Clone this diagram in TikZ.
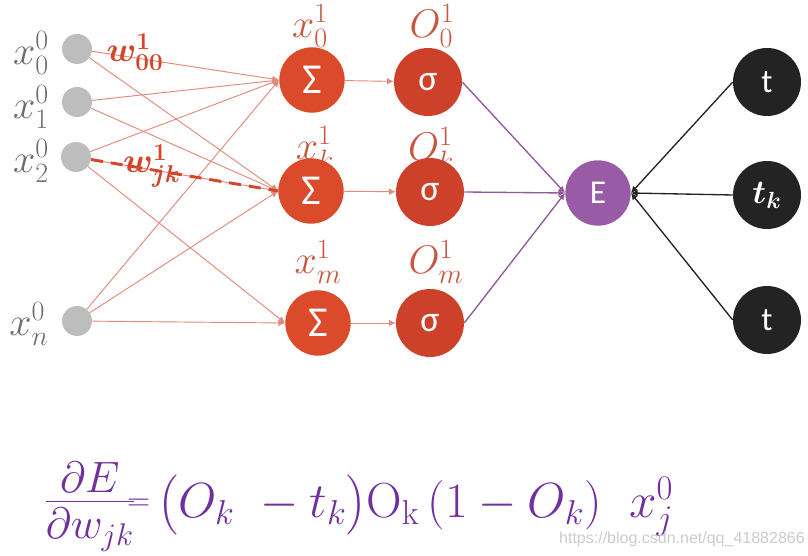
\RequirePackage{fix-cm}
\documentclass[tikz,border=0pt]{standalone}
\usepackage{amsmath,bm}
\usepackage{fontspec}
\newfontfamily\carl{Carlito}
\newfontfamily\wmfont{Liberation Sans}
\usetikzlibrary{arrows.meta}
\definecolor{inpgray}{HTML}{BDBDBD}
\definecolor{labgray}{HTML}{6E6E6E}
\definecolor{sumred}{HTML}{DB4A2B}
\definecolor{sigred}{HTML}{CD4029}
\definecolor{errpurp}{HTML}{9A5BA6}
\definecolor{tblack}{HTML}{232323}
\definecolor{linered}{HTML}{E28A7C}
\definecolor{labred}{HTML}{C9573F}
\definecolor{wred}{HTML}{D5452A}
\definecolor{linepurp}{HTML}{8E5A9A}
\definecolor{formpurp}{HTML}{7030A0}
\tikzset{
  inp/.style={circle, fill=inpgray, inner sep=0pt, minimum size=22.5pt},
  sumnode/.style={circle, fill=sumred, inner sep=0pt, minimum size=49pt, text=white, font=\carl\fontsize{32}{36}\selectfont},
  signode/.style={circle, fill=sigred, inner sep=0pt, minimum size=51pt, text=white, font=\carl\fontsize{27}{30}\selectfont},
  errnode/.style={circle, fill=errpurp, inner sep=0pt, minimum size=49pt, text=white, font=\carl\fontsize{25}{28}\selectfont},
  tnode/.style={circle, fill=tblack, inner sep=0pt, minimum size=51pt, text=white, font=\carl\fontsize{25}{28}\selectfont},
  inlab/.style={text=labgray, inner sep=0pt, font=\fontsize{30}{34}\selectfont},
  laylab/.style={text=labred, inner sep=0pt, font=\fontsize{30}{34}\selectfont},
  wlab/.style={text=wred, inner sep=0pt, font=\fontsize{26}{30}\selectfont},
  redline/.style={draw=linered, line width=0.7pt, -{Latex[length=5pt,width=5pt]}},
  dashline/.style={draw=wred, line width=2.2pt, dash pattern=on 9pt off 6pt},
  purpline/.style={draw=linepurp, line width=1pt, -{Latex[length=5pt,width=5pt]}},
  blkline/.style={draw=tblack, line width=1pt, -{Latex[length=5pt,width=5pt]}},
  formula/.style={text=formpurp, inner sep=0pt, font=\fontsize{37}{44}\selectfont},
  wmark/.style={text=gray!40, inner sep=0pt, font=\wmfont\fontsize{12}{14}\selectfont}
}
\begin{document}
\begin{tikzpicture}[x=0.75pt,y=-0.75pt]
\useasboundingbox (0,0) rectangle (808,556);
\fill[white] (0,0) rectangle (808,556);
% input labels
\node[inlab] (l0) at (31,53) {$x_0^0$};
\node[inlab] (l1) at (31,107) {$x_1^0$};
\node[inlab] (l2) at (31,161) {$x_2^0$};
\node[inlab] (ln) at (29,324) {$x_n^0$};
% layer labels
\node[laylab] (ls0) at (310,26) {$x_0^1$};
\node[laylab] (lsk) at (315,148) {$x_k^1$};
\node[laylab] (lsm) at (318,262) {$x_m^1$};
\node[laylab] (lg0) at (432,26) {$O_0^1$};
\node[laylab] (lgk) at (431,149) {$O_k^1$};
\node[laylab] (lgm) at (436,262) {$O_m^1$};
% nodes
\node[inp] (i0) at (77,49) {};
\node[inp] (i1) at (77,102) {};
\node[inp] (i2) at (76,157) {};
\node[inp] (in) at (77,321) {};
\node[sumnode] (s0) at (312,80) {Σ};
\node[sumnode] (sk) at (311,191) {Σ};
\node[sumnode] (sm) at (318,323) {Σ};
\node[signode] (g0) at (428,82) {σ};
\node[signode] (gk) at (430,192) {σ};
\node[signode] (gm) at (430,323) {σ};
\node[errnode] (E) at (598,193) {E};
\node[tnode] (t0) at (767,82) {t};
\node[tnode] (tk) at (767,195) {$\bm{t_k}$};
\node[tnode] (tm) at (767,320) {t};
% input -> sum
\foreach \a in {i0,i1,i2,in} \draw[redline] (\a) -- (s0.west);
\foreach \a in {i0,i1,i2,in} \draw[redline] (\a) -- (sk.west);
\draw[redline] (i2) -- (sm.west);
\draw[redline] (in) -- (sm.west);
\draw[dashline] (i2) -- (sk.west);
% sum -> sigma
\draw[redline] (s0) -- (g0);
\draw[redline] (sk) -- (gk);
\draw[redline] (sm) -- (gm);
% sigma -> E
\draw[purpline] (g0.east) -- (E.west);
\draw[purpline] (gk.east) -- (E.west);
\draw[purpline] (gm.east) -- (E.west);
% t -> E
\draw[blkline] (t0.west) -- (E.east);
\draw[blkline] (tk.west) -- (E.east);
\draw[blkline] (tm.west) -- (E.east);
% weight labels
\node[wlab] (w00) at (135,52) {$\bm{w}^{\bm{1}}_{\bm{00}}$};
\node[wlab] (wjk) at (152,166) {$\bm{w}^{\bm{1}}_{\bm{jk}}$};
% formula
\node[formula, anchor=base west] (f) at (44,517) {$\hbox{\fontsize{47}{47}\selectfont$\frac{\partial E}{\partial w_{jk}}$}\!\vcenter{\hbox{\fontsize{24}{24}\selectfont$=$}}\,\bigl(O_k\ -t_k\bigr)\mathrm{O}_{\mathrm{k}}\,(1-O_k)\;\;x_j^0$};
\node[wmark, anchor=base east] (wm) at (805,543) {https://blog.csdn.net/qq\_41882866};
\end{tikzpicture}
\end{document}
